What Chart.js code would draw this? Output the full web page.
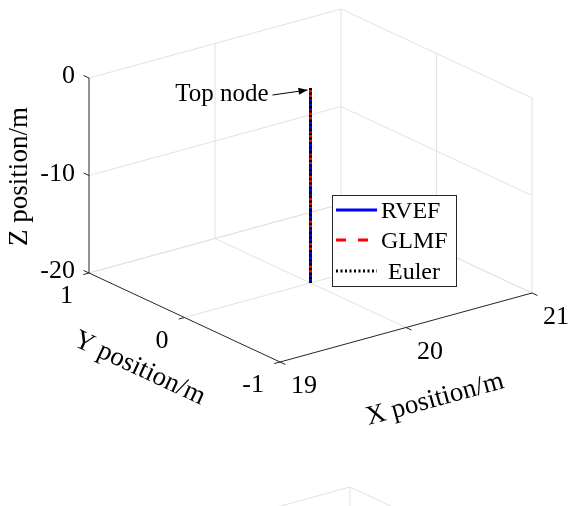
<!DOCTYPE html>
<html>
<head>
<meta charset="utf-8">
<script src="https://cdn.jsdelivr.net/npm/chart.js@4.4.0/dist/chart.umd.min.js"></script>
<style>
  html, body { margin: 0; padding: 0; background: #fff; }
  #wrap { width: 568px; height: 506px; position: relative; }
</style>
</head>
<body>
<div id="wrap"><canvas id="myChart"></canvas></div>
<script>
// axis ticks (also the axis limits)
const xTicks = [19, 20, 21];
const yTicks = [-1, 0, 1];
const zTicks = [-20, -10, 0];

// node positions of the line, top node first
const nodeZ = [0, -2, -4, -6, -8, -10, -12, -14, -16, -18, -20];
const rvefX = [20, 20, 20, 20, 20, 20, 20, 20, 20, 20, 20];
const rvefY = [0, 0, 0, 0, 0, 0, 0, 0, 0, 0, 0];
const glmfX = [20, 20, 20, 20, 20, 20, 20, 20, 20, 20, 20];
const glmfY = [0, 0, 0, 0, 0, 0, 0, 0, 0, 0, 0];
const eulerX = [20, 20, 20, 20, 20, 20, 20, 20, 20, 20, 20];
const eulerY = [0, 0, 0, 0, 0, 0, 0, 0, 0, 0, 0];

const seriesNames = ['RVEF', 'GLMF', 'Euler'];

// view: screen spot of the (19,-1,-20) corner, screen vectors of the x and y axes, z height
const view = { ox: 280, oy: 362, xv: [252, -69], yv: [-191, -89], zh: 195 };
const nextPanel = [9, 478]; // top of the next subplot peeks in at the bottom

const gridColor = '#e2e2e2';
const axisColor = '#262626';
const serif = s => s + 'px "Liberation Serif", "Times New Roman", serif';

function project(x, y, z, off) {
    const fx = (x - xTicks[0]) / (xTicks[xTicks.length - 1] - xTicks[0]);
    const fy = (y - yTicks[0]) / (yTicks[yTicks.length - 1] - yTicks[0]);
    const fz = (z - zTicks[0]) / (zTicks[zTicks.length - 1] - zTicks[0]);
    const o = off || [0, 0];
    return {
        x: view.ox + fx * view.xv[0] + fy * view.yv[0] + o[0],
        y: view.oy + fx * view.xv[1] + fy * view.yv[1] - fz * view.zh + o[1]
    };
}

function unit(v) {
    const l = Math.hypot(v[0], v[1]);
    return [v[0] / l, v[1] / l];
}

function segment(a, b, color, order) {
    return {
        label: '', data: [a, b], borderColor: color, borderWidth: 1,
        pointRadius: 0, showLine: true, fill: false, order: order
    };
}

const x0 = xTicks[0], x1 = xTicks[xTicks.length - 1];
const y0 = yTicks[0], y1 = yTicks[yTicks.length - 1];
const z0 = zTicks[0], z1 = zTicks[zTicks.length - 1];

function boxGrid(off) {
    const out = [];
    // back-left wall (y = y1) and back-right wall (x = x1)
    xTicks.slice(1).forEach(x => out.push(segment(project(x, y1, z0, off), project(x, y1, z1, off), gridColor, 10)));
    yTicks.slice(0, -1).forEach(y => out.push(segment(project(x1, y, z0, off), project(x1, y, z1, off), gridColor, 10)));
    zTicks.forEach(z => {
        out.push(segment(project(x0, y1, z, off), project(x1, y1, z, off), gridColor, 10));
        out.push(segment(project(x1, y1, z, off), project(x1, y0, z, off), gridColor, 10));
    });
    // floor
    xTicks.slice(1).forEach(x => out.push(segment(project(x, y0, z0, off), project(x, y1, z0, off), gridColor, 10)));
    yTicks.slice(1).forEach(y => out.push(segment(project(x0, y, z0, off), project(x1, y, z0, off), gridColor, 10)));
    return out;
}

const tickLen = 6;
const ux = unit(view.xv), uy = unit(view.yv);
const axes = [
    segment(project(x0, y1, z0), project(x0, y1, z1), axisColor, 5),
    segment(project(x0, y1, z0), project(x0, y0, z0), axisColor, 5),
    segment(project(x0, y0, z0), project(x1, y0, z0), axisColor, 5)
];
zTicks.forEach(z => {
    const p = project(x0, y1, z);
    axes.push(segment(p, { x: p.x + uy[0] * tickLen, y: p.y + uy[1] * tickLen }, axisColor, 5));
});
yTicks.forEach(y => {
    const p = project(x0, y, z0);
    axes.push(segment(p, { x: p.x - ux[0] * tickLen, y: p.y - ux[1] * tickLen }, axisColor, 5));
});
xTicks.forEach(x => {
    const p = project(x, y0, z0);
    axes.push(segment(p, { x: p.x - uy[0] * tickLen, y: p.y - uy[1] * tickLen }, axisColor, 5));
});

function linePoints(xs, ys) {
    return nodeZ.map((z, i) => project(xs[i], ys[i], z));
}

const seriesSets = [
    { label: seriesNames[0], data: linePoints(rvefX, rvefY), borderColor: '#0000ff', borderWidth: 3, borderDash: [], order: 2 },
    { label: seriesNames[1], data: linePoints(glmfX, glmfY), borderColor: '#ff0000', borderWidth: 3, borderDash: [10, 12], order: 1 },
    { label: seriesNames[2], data: linePoints(eulerX, eulerY), borderColor: '#000000', borderWidth: 3, borderDash: [2, 2.5], order: 0 }
].map(d => Object.assign({ pointRadius: 0, showLine: true, fill: false, borderCapStyle: 'butt' }, d));

const textPlugin = {
    id: 'labels3d',
    afterDatasetsDraw(chart) {
        const ctx = chart.ctx;
        const sx = chart.scales.x, sy = chart.scales.y;
        const px = p => ({ x: sx.getPixelForValue(p.x), y: sy.getPixelForValue(p.y) });
        ctx.save();
        ctx.fillStyle = '#000';

        // tick labels
        ctx.font = serif(26);
        ctx.textBaseline = 'alphabetic';
        ctx.textAlign = 'right';
        zTicks.forEach(z => {
            const p = px(project(x0, y1, z));
            ctx.fillText(String(z), p.x - 14, p.y + 5);
        });
        yTicks.forEach(y => {
            const p = px(project(x0, y, z0));
            ctx.fillText(String(y), p.x - 16, p.y + 30);
        });
        ctx.textAlign = 'left';
        xTicks.forEach(x => {
            const p = px(project(x, y0, z0));
            ctx.fillText(String(x), p.x + 11, p.y + 31);
        });

        // axis titles
        ctx.font = serif(27);
        ctx.textAlign = 'center';
        ctx.textBaseline = 'middle';
        const title = (txt, mid, dx, dy, ang) => {
            const p = px(mid);
            ctx.save();
            ctx.translate(p.x + dx, p.y + dy);
            ctx.rotate(ang);
            ctx.fillText(txt, 0, 0);
            ctx.restore();
        };
        title('Z position/m', project(x0, y1, (z0 + z1) / 2), -69, 1, -Math.PI / 2);
        title('Y position/m', project(x0, (y0 + y1) / 2, z0), -45, 51, Math.atan2(-view.yv[1], -view.yv[0]));
        title('X position/m', project((x0 + x1) / 2, y0, z0), 29, 72, Math.atan2(view.xv[1], view.xv[0]));

        // annotation of the top node
        const top = px(project(rvefX[0], rvefY[0], nodeZ[0]));
        const tip = { x: top.x - 3, y: top.y + 2 };
        const tail = { x: top.x - 38, y: top.y + 7 };
        ctx.strokeStyle = '#000';
        ctx.lineWidth = 1;
        ctx.beginPath();
        ctx.moveTo(tail.x, tail.y);
        ctx.lineTo(tip.x, tip.y);
        ctx.stroke();
        const a = Math.atan2(tip.y - tail.y, tip.x - tail.x);
        ctx.beginPath();
        ctx.moveTo(tip.x, tip.y);
        ctx.lineTo(tip.x - 9 * Math.cos(a) + 3.5 * Math.sin(a), tip.y - 9 * Math.sin(a) - 3.5 * Math.cos(a));
        ctx.lineTo(tip.x - 9 * Math.cos(a) - 3.5 * Math.sin(a), tip.y - 9 * Math.sin(a) + 3.5 * Math.cos(a));
        ctx.closePath();
        ctx.fill();
        ctx.font = serif(25);
        ctx.textAlign = 'right';
        ctx.textBaseline = 'alphabetic';
        ctx.fillText('Top node', tail.x - 4, tail.y + 6);

        // legend box
        const lx = 332, ly = 195, lw = 124, lh = 91;
        ctx.fillStyle = '#fff';
        ctx.fillRect(lx, ly, lw, lh);
        ctx.strokeStyle = axisColor;
        ctx.strokeRect(lx + 0.5, ly + 0.5, lw, lh);
        const rowY = [210, 240, 271];
        const textX = [381, 381, 388];
        ctx.font = serif(24);
        ctx.textAlign = 'left';
        seriesSets.forEach((d, i) => {
            ctx.save();
            ctx.strokeStyle = d.borderColor;
            ctx.lineWidth = d.borderWidth;
            ctx.setLineDash(d.borderDash);
            ctx.beginPath();
            ctx.moveTo(336, rowY[i]);
            ctx.lineTo(377, rowY[i]);
            ctx.stroke();
            ctx.restore();
            ctx.fillStyle = '#000';
            ctx.fillText(d.label, textX[i], rowY[i] + 8);
        });
        ctx.restore();
    }
};

const ctx = document.getElementById('myChart').getContext('2d');
new Chart(ctx, {
    type: 'scatter',
    data: {
        datasets: [...seriesSets, ...axes, ...boxGrid(), ...boxGrid(nextPanel)]
    },
    options: {
        responsive: true,
        maintainAspectRatio: false,
        animation: false,
        devicePixelRatio: 1,
        layout: { padding: 0 },
        scales: {
            x: { type: 'linear', min: 0, max: 568, display: false },
            y: { type: 'linear', min: 0, max: 506, reverse: true, display: false }
        },
        plugins: {
            legend: { display: false },
            tooltip: { enabled: false }
        }
    },
    plugins: [textPlugin]
});
</script>
</body>
</html>
